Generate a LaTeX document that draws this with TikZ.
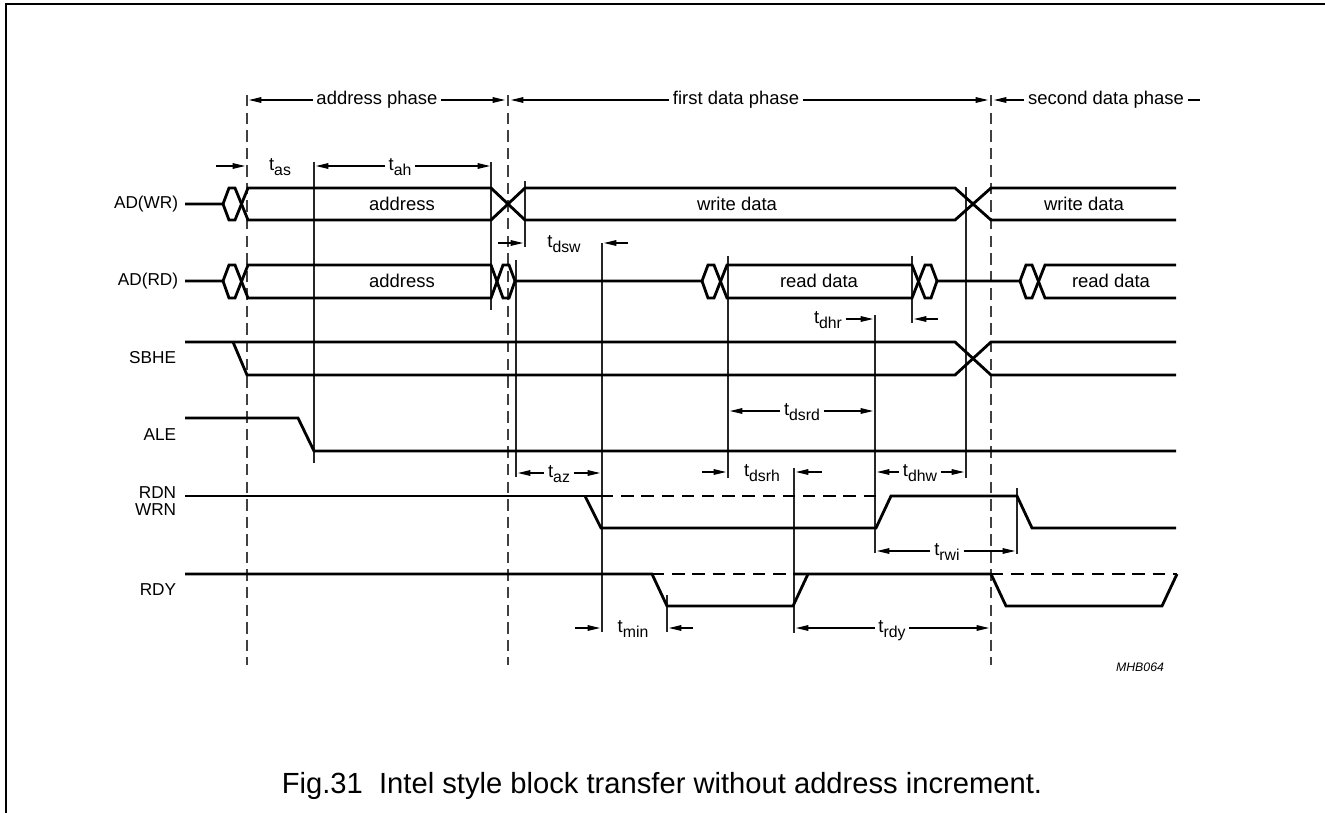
\documentclass[tikz,border=0pt]{standalone}
\usepackage{fontspec}
\setmainfont{Liberation Sans}
\usetikzlibrary{arrows.meta}

\newcommand{\tsub}[1]{t\raisebox{-2.6pt}{\fontsize{9}{9}\selectfont #1}}

\begin{document}
\begin{tikzpicture}[x=0.02cm, y=-0.02cm,
  every node/.style={font=\fontsize{10.5}{12}\selectfont, inner sep=2pt},
  sig/.style={line width=1.6pt},
  sigdash/.style={line width=1.6pt, dash pattern=on 7pt off 4.5pt},
  refline/.style={line width=0.6pt, black!85},
  phaseline/.style={line width=1pt, black!75, dash pattern=on 6.5pt off 3.5pt},
  dim/.style={line width=0.6pt, -{Triangle[length=7pt,width=3.2pt]}},
  signame/.style={anchor=east, font=\fontsize{9.8}{11}\selectfont},
  tlbl/.style={anchor=mid}]
\useasboundingbox (0,0) rectangle (1325,812);
\draw[line width=1pt] (6,4) rectangle (1340,830);

% Phase boundaries
\foreach \x in {247,508,991}
  \draw[phaseline] (\x,95) -- (\x,665);
\node[tlbl] (addrphase) at (377,100) {address phase};
\node[tlbl] (firstphase) at (736,100) {first data phase};
\node[tlbl] (secondphase) at (1106,100) {second data phase};
\draw[dim] (addrphase.mid west) -- (249,100);
\draw[dim] (addrphase.mid east) -- (505,100);
\draw[dim] (firstphase.mid west) -- (511,100);
\draw[dim] (firstphase.mid east) -- (988,100);
\draw[dim] (secondphase.mid west) -- (994,100);
\draw[line width=0.6pt] (secondphase.mid east) -- (1200,100);

% Reference lines
\foreach \x/\ya/\yb in {314/162/463, 491/162/310, 516/260/477, 525/181/247,
    602/243/632, 728/256/478, 912/256/323, 875/315/553, 794/468/633,
    966/187/478, 1017/488/554, 667/595/632}
  \draw[refline] (\x,\ya) -- (\x,\yb);

% Signal names
\node[signame] (adwr) at (182,204) {AD(WR)};
\node[signame] (adrd) at (182,281) {AD(RD)};
\node[signame] (sbhe) at (180,358) {SBHE};
\node[signame] (ale) at (180,435) {ALE};
\node[signame] (rdn) at (180,493) {RDN};
\node[signame] (wrn) at (180,510) {WRN};
\node[signame] (rdy) at (180,590) {RDY};

% AD(WR)
\draw[sig] (185,204) -- (223,204) -- (229,188) -- (235,188) -- (248,220) -- (491,220)
  -- (525,188) -- (955,188) -- (991,220) -- (1176,220);
\draw[sig] (223,204) -- (229,220) -- (235,220) -- (248,188) -- (491,188)
  -- (525,220) -- (955,220) -- (991,188) -- (1176,188);
\node (wraddr) at (402,204) {address};
\node (wrdata1) at (737,204) {write data};
\node (wrdata2) at (1084,204) {write data};

% AD(RD)
\draw[sig] (185,281) -- (223,281) -- (229,265) -- (235,265) -- (248,298) -- (491,298)
  -- (503,265) -- (509,265) -- (515,281) -- (702,281) -- (708,265) -- (714,265)
  -- (727,298) -- (912,298) -- (925,265) -- (931,265) -- (937,281) -- (1020,281)
  -- (1026,265) -- (1032,265) -- (1045,298) -- (1176,298);
\draw[sig] (223,281) -- (229,298) -- (235,298) -- (248,265) -- (491,265)
  -- (503,298) -- (509,298) -- (515,281);
\draw[sig] (702,281) -- (708,298) -- (714,298) -- (727,265) -- (912,265)
  -- (925,298) -- (931,298) -- (937,281);
\draw[sig] (1020,281) -- (1026,298) -- (1032,298) -- (1045,265) -- (1176,265);
\node (rdaddr) at (402,281) {address};
\node (rddata1) at (819,281) {read data};
\node (rddata2) at (1111,281) {read data};

% SBHE
\draw[sig] (185,342) -- (955,342) -- (991,375) -- (1176,375);
\draw[sig] (233,342) -- (247,375) -- (955,375) -- (991,342) -- (1176,342);

% ALE
\draw[sig] (185,418) -- (298,418) -- (314,451) -- (1176,451);

% RDN / WRN
\draw[sig] (185,496) -- (601,496);
\draw[sig] (585,496) -- (601,528) -- (876,528) -- (891,496) -- (1017,496)
  -- (1032,528) -- (1176,528);
\draw[sigdash] (601,496) -- (876,496);

% RDY
\draw[sig] (185,574) -- (652,574) -- (667,606) -- (793,606) -- (808,574);
\draw[sig] (793,574) -- (991,574) -- (1006,606) -- (1162,606) -- (1177,574);
\draw[sigdash] (652,574) -- (793,574);
\draw[sigdash] (991,574) -- (1177,574);

% Timing parameters
\node[tlbl] (tas) at (280,166) {\tsub{as}};
\draw[dim] (216,166) -- (245,166);
\node[tlbl] (tah) at (400,166) {\tsub{ah}};
\draw[dim] (tah.mid west) -- (316,166);
\draw[dim] (tah.mid east) -- (490,166);
\node[tlbl] (tdsw) at (564,243) {\tsub{dsw}};
\draw[dim] (498,243) -- (523,243);
\draw[dim] (628,243) -- (604,243);
\node[tlbl] (tdhr) at (828,319) {\tsub{dhr}};
\draw[dim] (tdhr.mid east) -- (873,319);
\draw[dim] (938,319) -- (914,319);
\node[tlbl] (tdsrd) at (802,411) {\tsub{dsrd}};
\draw[dim] (tdsrd.mid west) -- (730,411);
\draw[dim] (tdsrd.mid east) -- (873,411);
\node[tlbl] (taz) at (559,473) {\tsub{az}};
\draw[dim] (taz.mid west) -- (518,473);
\draw[dim] (taz.mid east) -- (600,473);
\node[tlbl] (tdsrh) at (762,472) {\tsub{dsrh}};
\draw[dim] (702,472) -- (726,472);
\draw[dim] (822,472) -- (796,472);
\node[tlbl] (tdhw) at (920,472) {\tsub{dhw}};
\draw[dim] (tdhw.mid west) -- (877,472);
\draw[dim] (tdhw.mid east) -- (964,472);
\node[tlbl] (trwi) at (947,551) {\tsub{rwi}};
\draw[dim] (trwi.mid west) -- (877,551);
\draw[dim] (trwi.mid east) -- (1015,551);
\node[tlbl] (tmin) at (633,628) {\tsub{min}};
\draw[dim] (575,628) -- (600,628);
\draw[dim] (693,628) -- (669,628);
\node[tlbl] (trdy) at (892,628) {\tsub{rdy}};
\draw[dim] (trdy.mid west) -- (796,628);
\draw[dim] (trdy.mid east) -- (989,628);

% Figure code and caption
\node[font=\fontsize{7}{8}\selectfont\itshape] (figcode) at (1140,667) {MHB064};
\node[font=\fontsize{16.6}{18}\selectfont] (caption) at (662,786)
  {Fig.31\ \ Intel style block transfer without address increment.};
\end{tikzpicture}
\end{document}
